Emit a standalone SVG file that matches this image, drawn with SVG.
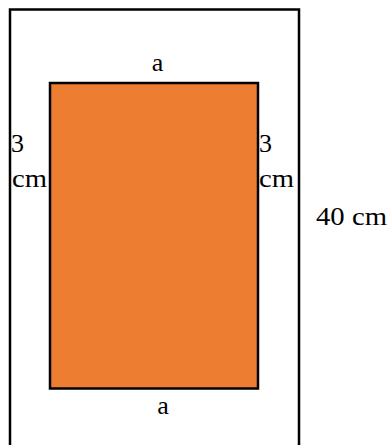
<svg xmlns="http://www.w3.org/2000/svg" width="390" height="445" viewBox="0 0 390 445">
<style>
text{font-family:"Liberation Serif","Times New Roman",serif;font-size:26px;fill:#000}
.box{stroke:#000;stroke-width:2.5}
</style>
<rect width="390" height="445" fill="#fff"/>
<g id="outer"><rect class="box" x="10" y="9.5" width="289" height="450" fill="none"/></g>
<g id="inner"><rect class="box" x="50" y="83" width="208" height="305.5" fill="#ED7D31"/></g>
<g id="labels">
<text x="157.5" y="71" text-anchor="middle">a</text>
<text x="163" y="414" text-anchor="middle">a</text>
<text x="11" y="152">3</text>
<text x="12" y="187" textLength="35" lengthAdjust="spacingAndGlyphs">cm</text>
<text x="259" y="152">3</text>
<text x="259" y="187" textLength="35" lengthAdjust="spacingAndGlyphs">cm</text>
<text x="316" y="225" textLength="71" lengthAdjust="spacingAndGlyphs">40 cm</text>
</g>
</svg>
